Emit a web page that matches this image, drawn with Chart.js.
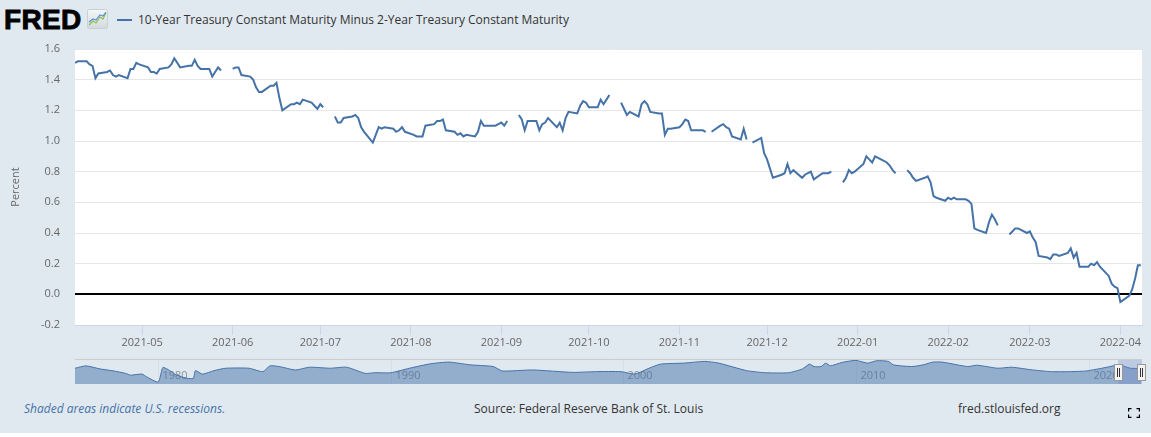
<!DOCTYPE html>
<html>
<head>
<meta charset="utf-8">
<script src="https://cdn.jsdelivr.net/npm/chart.js@4.4.0/dist/chart.umd.min.js"></script>
<style>
  html, body { margin: 0; padding: 0; background: #fff; }
  #wrap { position: relative; width: 1151px; height: 433px; background: #e1e9f0; font-family: "Open Sans", sans-serif; overflow: hidden; }
  #logo { position: absolute; left: 4px; top: 4px; font: bold 28px "Liberation Sans", sans-serif; color: #000; -webkit-text-stroke: 0.9px #000; letter-spacing: 0.3px; }
  #icon { position: absolute; left: 87px; top: 9px; }
  #legline { position: absolute; left: 117px; top: 19px; width: 15px; height: 2px; background: #4572a7; }
  #legtext { position: absolute; left: 138px; top: 11px; font-size: 12px; color: #333; white-space: nowrap; }
  #main { position: absolute; left: 0; top: 40px; }
  #nav { position: absolute; left: 0; top: 359px; }
  .foot { position: absolute; top: 400px; font-size: 12px; color: #333; white-space: nowrap; }
  #recess { left: 24px; font-style: italic; color: #4572a7; }
  #source { left: 474px; }
  #site { left: 958px; }
  #full { position: absolute; left: 1128px; top: 408px; }
</style>
</head>
<body>
<div id="wrap">
  <div id="logo">FRED</div>
  <svg id="icon" width="21" height="20" viewBox="0 0 21 20">
    <defs><linearGradient id="g" x1="0" y1="0" x2="0" y2="1"><stop offset="0" stop-color="#f4f6f7"/><stop offset="1" stop-color="#d3d9dc"/></linearGradient></defs>
    <rect x="0.5" y="0.5" width="20" height="19" rx="2" fill="url(#g)" stroke="#c9cfd2"/>
    <polyline points="2,16 6,12 9,14 13,8 16,10 19,4" fill="none" stroke="#8cc152" stroke-width="1.2"/>
    <polyline points="2,13 6,10 9,11 13,6 16,7 19,3" fill="none" stroke="#5b8fd4" stroke-width="1.2"/>
  </svg>
  <div id="legline"></div>
  <div id="legtext">10-Year Treasury Constant Maturity Minus 2-Year Treasury Constant Maturity</div>
  <canvas id="main" width="1151" height="312"></canvas>
  <canvas id="nav" width="1151" height="25"></canvas>
  <div class="foot" id="recess">Shaded areas indicate U.S. recessions.</div>
  <div class="foot" id="source">Source: Federal Reserve Bank of St. Louis</div>
  <div class="foot" id="site">fred.stlouisfed.org</div>
  <svg id="full" width="12" height="10" viewBox="0 0 12 10">
    <path d="M0.5 3.5V0.5H3.5M8.5 0.5H11.5V3.5M11.5 6.5V9.5H8.5M3.5 9.5H0.5V6.5" fill="none" stroke="#000" stroke-width="1.4"/>
  </svg>
</div>
<script>
// T10Y2Y daily, in percent (null = bond market holiday)
const dates = [
  "2021-04-08","2021-04-09","2021-04-12","2021-04-13","2021-04-14","2021-04-15","2021-04-16",
  "2021-04-19","2021-04-20","2021-04-21","2021-04-22","2021-04-23","2021-04-26","2021-04-27",
  "2021-04-28","2021-04-29","2021-04-30",
  "2021-05-03","2021-05-04","2021-05-05","2021-05-06","2021-05-07","2021-05-10","2021-05-11",
  "2021-05-12","2021-05-13","2021-05-14","2021-05-17","2021-05-18","2021-05-19","2021-05-20",
  "2021-05-21","2021-05-24","2021-05-25","2021-05-26","2021-05-27","2021-05-28","2021-05-31",
  "2021-06-01","2021-06-02","2021-06-03","2021-06-04","2021-06-07","2021-06-08","2021-06-09",
  "2021-06-10","2021-06-11","2021-06-14","2021-06-15","2021-06-16","2021-06-17","2021-06-18",
  "2021-06-21","2021-06-22","2021-06-23","2021-06-24","2021-06-25","2021-06-28","2021-06-29",
  "2021-06-30",
  "2021-07-01","2021-07-02","2021-07-05","2021-07-06","2021-07-07","2021-07-08","2021-07-09",
  "2021-07-12","2021-07-13","2021-07-14","2021-07-15","2021-07-16","2021-07-19","2021-07-20",
  "2021-07-21","2021-07-22","2021-07-23","2021-07-26","2021-07-27","2021-07-28","2021-07-29",
  "2021-07-30",
  "2021-08-02","2021-08-03","2021-08-04","2021-08-05","2021-08-06","2021-08-09","2021-08-10",
  "2021-08-11","2021-08-12","2021-08-13","2021-08-16","2021-08-17","2021-08-18","2021-08-19",
  "2021-08-20","2021-08-23","2021-08-24","2021-08-25","2021-08-26","2021-08-27","2021-08-30",
  "2021-08-31",
  "2021-09-01","2021-09-02","2021-09-03","2021-09-06","2021-09-07","2021-09-08","2021-09-09",
  "2021-09-10","2021-09-13","2021-09-14","2021-09-15","2021-09-16","2021-09-17","2021-09-20",
  "2021-09-21","2021-09-22","2021-09-23","2021-09-24","2021-09-27","2021-09-28","2021-09-29",
  "2021-09-30",
  "2021-10-01","2021-10-04","2021-10-05","2021-10-06","2021-10-07","2021-10-08","2021-10-11",
  "2021-10-12","2021-10-13","2021-10-14","2021-10-15","2021-10-18","2021-10-19","2021-10-20",
  "2021-10-21","2021-10-22","2021-10-25","2021-10-26","2021-10-27","2021-10-28","2021-10-29",
  "2021-11-01","2021-11-02","2021-11-03","2021-11-04","2021-11-05","2021-11-08","2021-11-09",
  "2021-11-10","2021-11-11","2021-11-12","2021-11-15","2021-11-16","2021-11-17","2021-11-18",
  "2021-11-19","2021-11-22","2021-11-23","2021-11-24","2021-11-25","2021-11-26","2021-11-29",
  "2021-11-30",
  "2021-12-01","2021-12-02","2021-12-03","2021-12-06","2021-12-07","2021-12-08","2021-12-09",
  "2021-12-10","2021-12-13","2021-12-14","2021-12-15","2021-12-16","2021-12-17","2021-12-20",
  "2021-12-21","2021-12-22","2021-12-23","2021-12-24","2021-12-27","2021-12-28","2021-12-29",
  "2021-12-30","2021-12-31",
  "2022-01-03","2022-01-04","2022-01-05","2022-01-06","2022-01-07","2022-01-10","2022-01-11",
  "2022-01-12","2022-01-13","2022-01-14","2022-01-17","2022-01-18","2022-01-19","2022-01-20",
  "2022-01-21","2022-01-24","2022-01-25","2022-01-26","2022-01-27","2022-01-28","2022-01-31",
  "2022-02-01","2022-02-02","2022-02-03","2022-02-04","2022-02-07","2022-02-08","2022-02-09",
  "2022-02-10","2022-02-11","2022-02-14","2022-02-15","2022-02-16","2022-02-17","2022-02-18",
  "2022-02-21","2022-02-22","2022-02-23","2022-02-24","2022-02-25","2022-02-28",
  "2022-03-01","2022-03-02","2022-03-03","2022-03-04","2022-03-07","2022-03-08","2022-03-09",
  "2022-03-10","2022-03-11","2022-03-14","2022-03-15","2022-03-16","2022-03-17","2022-03-18",
  "2022-03-21","2022-03-22","2022-03-23","2022-03-24","2022-03-25","2022-03-28","2022-03-29",
  "2022-03-30","2022-03-31",
  "2022-04-01","2022-04-04","2022-04-05","2022-04-06","2022-04-07","2022-04-08"
];
const values = [
  1.51,1.52,1.52,1.50,1.49,1.41,1.44,
  1.45,1.46,1.43,1.42,1.43,1.41,1.47,
  1.47,1.51,1.50,
  1.48,1.45,1.45,1.44,1.47,1.48,1.50,
  1.54,1.51,1.48,1.49,1.49,1.53,1.49,
  1.47,1.47,1.42,1.45,1.48,1.46,null,
  1.47,1.48,1.48,1.43,1.42,1.40,1.35,
  1.32,1.32,1.36,1.36,1.38,1.28,1.20,
  1.24,1.24,1.25,1.24,1.27,1.25,1.23,
  1.21,
  1.24,1.22,null,1.16,1.12,1.12,1.15,
  1.16,1.17,1.15,1.09,1.06,0.99,1.04,
  1.09,1.08,1.09,1.08,1.06,1.07,1.09,
  1.06,
  1.04,1.03,1.03,1.03,1.10,1.11,1.13,
  1.13,1.14,1.07,1.06,1.04,1.05,1.03,
  1.04,1.03,1.06,1.13,1.10,1.10,1.10,
  1.11,
  1.12,1.10,1.13,null,1.17,1.14,1.07,
  1.13,1.13,1.07,1.11,1.12,1.15,1.09,
  1.12,1.07,1.15,1.19,1.18,1.23,1.26,
  1.25,
  1.22,1.22,1.27,1.24,1.27,1.30,null,
  1.25,1.21,1.17,1.19,1.16,1.24,1.26,
  1.24,1.19,1.18,1.18,1.04,1.08,1.08,
  1.09,1.11,1.14,1.13,1.07,1.07,1.07,
  1.06,null,1.06,1.10,1.11,1.09,1.08,
  1.03,1.01,1.08,1.01,null,0.99,1.02,
  0.92,
  0.88,0.82,0.76,0.78,0.79,0.85,0.79,
  0.81,0.76,0.78,0.79,0.80,0.75,0.79,
  0.79,0.79,0.80,null,0.73,0.76,0.81,
  0.79,0.80,
  0.85,0.90,0.88,0.86,0.90,0.87,0.86,
  0.84,0.81,0.79,null,0.81,0.79,0.76,
  0.74,0.76,0.77,0.73,0.64,0.63,0.61,
  0.63,0.62,0.63,0.62,0.62,0.61,0.59,
  0.43,0.42,0.40,0.47,0.52,0.49,0.45,
  null,0.39,0.41,0.43,0.43,0.40,
  0.41,0.37,0.34,0.25,0.24,0.23,0.26,
  0.26,0.25,0.27,0.30,0.24,0.27,0.18,
  0.18,0.20,0.19,0.21,0.18,0.12,0.07,
  0.05,0.04,
  -0.05,-0.01,0.03,0.10,0.19,0.19
];
const tickMonths = ["2021-05","2021-06","2021-07","2021-08","2021-09","2021-10",
                    "2021-11","2021-12","2022-01","2022-02","2022-03","2022-04"];

// navigator: whole history
const navYears = [
  1976.42,1976.9,1977.5,1978.1,1978.6,1978.8,1979.3,1979.5,1980.0,1980.2,1980.5,1980.7,
  1981.1,1981.5,1981.6,1981.9,1982.4,1982.9,1983.9,1984.5,1984.8,1985.2,1985.9,1986.5,
  1987.4,1988.1,1988.9,1989.3,1990.0,1990.8,1991.7,1992.5,1993.4,1994.4,1994.8,1996.1,
  1997.8,1998.8,1999.9,2000.5,2001.1,2001.6,2002.6,2003.5,2004.1,2005.3,2006.1,2007.1,
  2007.7,2008.0,2008.2,2008.5,2008.7,2008.9,2009.4,2010.0,2010.5,2010.9,2011.4,2011.6,
  2012.4,2012.9,2013.3,2013.7,2014.8,2015.2,2016.1,2016.7,2017.6,2018.4,2019.1,2019.9,
  2020.8,2021.3,2021.8,2022.27
];
const navValues = [
  0.97,1.55,0.80,0.29,-0.30,-0.72,-0.47,-1.14,-2.40,1.14,0.38,-0.47,
  -1.31,-1.56,0.38,-0.47,0.38,0.97,0.97,0.13,1.55,1.39,0.55,1.22,
  0.97,1.22,-0.30,-0.13,-0.13,0.97,2.06,2.48,1.81,1.39,0.30,0.55,
  -0.04,0.13,0.13,-0.47,0.97,1.98,2.23,2.65,2.23,0.38,-0.13,-0.13,
  0.80,1.98,1.39,1.39,2.23,1.56,2.39,2.90,2.23,2.82,2.65,1.81,
  1.39,1.81,2.48,2.48,1.39,1.72,0.97,1.22,0.55,0.13,0.13,0.30,
  1.22,1.81,0.97,0.90
];
const navTickYears = [1980, 1990, 2000, 2010, 2020];

const DAY = 86400000;
const xMin = Date.parse("2021-04-08");
const xMax = xMin + 365.4 * DAY;
const FONT = "'Open Sans', sans-serif";

const plotBg = {
  id: 'plotBg',
  beforeDraw(chart) {
    const a = chart.chartArea, c = chart.ctx;
    c.save();
    c.fillStyle = '#ffffff';
    c.fillRect(a.left, a.top, a.right - a.left, a.bottom - a.top);
    c.restore();
  }
};

new Chart(document.getElementById('main'), {
  type: 'line',
  data: {
    datasets: [{
      data: dates.map((d, i) => ({ x: Date.parse(d), y: values[i] })),
      borderColor: '#4572a7',
      borderWidth: 2,
      pointRadius: 0,
      tension: 0,
      spanGaps: false
    }]
  },
  options: {
    responsive: false,
    animation: false,
    devicePixelRatio: 1,
    layout: { padding: { top: 9, right: 9, left: 0, bottom: 0 } },
    plugins: { legend: { display: false }, tooltip: { enabled: false } },
    scales: {
      x: {
        type: 'linear',
        min: xMin,
        max: xMax,
        afterBuildTicks: s => { s.ticks = tickMonths.map(m => ({ value: Date.parse(m + "-01") })); },
        afterFit: s => { s.height = 27; s.paddingLeft = 0; s.paddingRight = 0; },
        grid: { drawOnChartArea: false, color: '#ccd6eb', tickLength: 10 },
        border: { color: '#ccd6eb' },
        ticks: {
          autoSkip: false, maxRotation: 0, padding: 1,
          color: '#666', font: { family: FONT, size: 11 },
          callback: v => {
            const d = new Date(v);
            return d.getUTCFullYear() + '-' + String(d.getUTCMonth() + 1).padStart(2, '0');
          }
        }
      },
      y: {
        min: -0.2,
        max: 1.6,
        afterFit: s => { s.width = 75; s.paddingTop = 0; s.paddingBottom = 0; },
        border: { display: false },
        grid: {
          drawTicks: false,
          color: c => Math.abs(c.tick.value) < 1e-9 ? '#000000' : (c.tick.value < -0.1 ? '#ccd6eb' : '#e6e6e6'),
          lineWidth: c => Math.abs(c.tick.value) < 1e-9 ? 2 : 1
        },
        ticks: {
          stepSize: 0.2, padding: 15, color: '#666', font: { family: FONT, size: 11 },
          callback: v => v.toFixed(1)
        },
        title: { display: true, text: 'Percent', color: '#666', font: { family: FONT, size: 11 }, padding: { top: 9, bottom: 0 } }
      }
    }
  },
  plugins: [plotBg]
});

const selStart = 2021.27;
const navDecor = {
  id: 'navDecor',
  beforeDatasetsDraw(chart) {
    const c = chart.ctx, a = chart.chartArea, xs = chart.scales.x;
    c.save();
    c.strokeStyle = '#d8dee6';
    c.lineWidth = 1;
    c.font = "11px " + FONT;
    c.fillStyle = '#8a8f96';
    c.textBaseline = 'middle';
    navTickYears.forEach(y => {
      const px = Math.round(xs.getPixelForValue(y)) + 0.5;
      c.beginPath(); c.moveTo(px, a.top); c.lineTo(px, a.bottom); c.stroke();
      c.fillText(String(y), px + 4, 17);
    });
    c.restore();
  },
  afterDatasetsDraw(chart) {
    const c = chart.ctx, a = chart.chartArea, xs = chart.scales.x;
    const x0 = xs.getPixelForValue(selStart);
    c.save();
    c.fillStyle = 'rgba(102,133,194,0.3)';
    c.fillRect(x0, a.top, a.right - x0, a.bottom - a.top);
    c.strokeStyle = '#cccccc';
    c.lineWidth = 1;
    c.beginPath(); c.moveTo(a.left, 0.5); c.lineTo(a.right, 0.5); c.stroke();
    [x0, a.right - 1].forEach(hx => {
      const l = Math.round(hx - 4) + 0.5;
      c.fillStyle = '#f2f2f2';
      c.strokeStyle = '#999999';
      c.fillRect(l, 5.5, 8, 16);
      c.strokeRect(l, 5.5, 8, 16);
      c.strokeStyle = '#333';
      c.beginPath();
      c.moveTo(l + 3, 9); c.lineTo(l + 3, 18);
      c.moveTo(l + 5, 9); c.lineTo(l + 5, 18);
      c.stroke();
    });
    c.restore();
  }
};

new Chart(document.getElementById('nav'), {
  type: 'line',
  data: {
    datasets: [{
      data: navYears.map((t, i) => ({ x: t, y: navValues[i] })),
      borderColor: '#4572a7',
      borderWidth: 1,
      backgroundColor: 'rgba(69,114,167,0.5)',
      fill: 'start',
      pointRadius: 0,
      tension: 0.2
    }]
  },
  options: {
    responsive: false,
    animation: false,
    devicePixelRatio: 1,
    layout: { padding: { left: 75, right: 9, top: 0, bottom: 0 } },
    plugins: { legend: { display: false }, tooltip: { enabled: false } },
    scales: {
      x: { type: 'linear', display: false, min: 1976.42, max: 2022.3 },
      y: { display: false, min: -2.9, max: 3.24 }
    }
  },
  plugins: [navDecor]
});
</script>
</body>
</html>
